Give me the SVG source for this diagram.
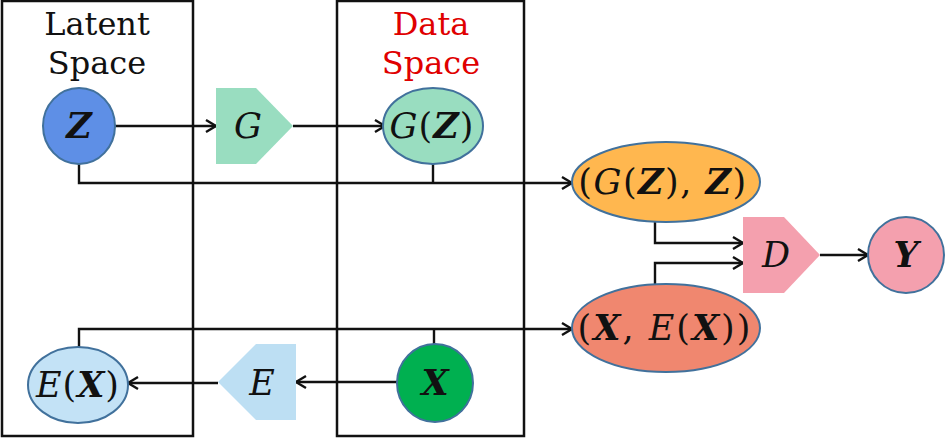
<svg xmlns="http://www.w3.org/2000/svg" width="945" height="438" viewBox="0 0 945 438">
<defs>
<style>
.box{fill:none;stroke:#111;stroke-width:2.5}
.node{stroke:#41719C;stroke-width:2}
.shape{stroke:none}
.title{font-family:"DejaVu Serif",serif;font-size:32px;text-anchor:middle}
.m{font-family:"DejaVu Serif",serif;font-size:35px;text-anchor:middle;fill:#111}
.i{font-style:italic}
.b{font-style:italic;font-weight:bold}
.conn{fill:none;stroke:#111;stroke-width:2.4}
</style>
<marker id="arr" markerUnits="userSpaceOnUse" markerWidth="14" markerHeight="16" refX="11" refY="7" orient="auto" viewBox="0 0 14 14">
<path d="M1,1 L11,7 L1,13" fill="none" stroke="#111" stroke-width="2.4"/>
</marker>
</defs>
<rect width="945" height="438" fill="#fff"/>

<g id="latent-space">
<rect class="box" x="2" y="1" width="191" height="435"/>
<text class="title" x="97" y="35" fill="#111">Latent</text>
<text class="title" x="97" y="74" fill="#111">Space</text>
</g>
<g id="data-space">
<rect class="box" x="337" y="1" width="187" height="435"/>
<text class="title" x="431" y="35" fill="#E00000">Data</text>
<text class="title" x="431" y="74" fill="#E00000">Space</text>
</g>

<g id="connectors">
<path class="conn" d="M115,126 H216" marker-end="url(#arr)"/>
<path class="conn" d="M293,126 H385" marker-end="url(#arr)"/>
<path class="conn" d="M79,164 V183 H572" marker-end="url(#arr)"/>
<path class="conn" d="M433,164 V183"/>
<path class="conn" d="M655,222 V243 H743" marker-end="url(#arr)"/>
<path class="conn" d="M655,284 V263 H743" marker-end="url(#arr)"/>
<path class="conn" d="M820,255 H868" marker-end="url(#arr)"/>
<path class="conn" d="M79,347 V329 H572" marker-end="url(#arr)"/>
<path class="conn" d="M434,344 V329"/>
<path class="conn" d="M397,382 H296" marker-end="url(#arr)"/>
<path class="conn" d="M218,383 H128" marker-end="url(#arr)"/>
</g>

<g id="node-Z">
<ellipse class="node" cx="79" cy="126" rx="36" ry="38" fill="#5E8FE6"/>
<text class="m b" x="79" y="138">Z</text>
</g>
<g id="node-G">
<polygon class="shape" points="216,88 256,88 293,126 256,164 216,164" fill="#99DDC0"/>
<text class="m i" x="248" y="138">G</text>
</g>
<g id="node-GZ">
<ellipse class="node" cx="433" cy="126" rx="50" ry="38" fill="#99DDC0"/>
<text class="m" x="432" y="138" letter-spacing="1"><tspan class="i">G</tspan>(<tspan class="b">Z</tspan>)</text>
</g>
<g id="node-GZZ">
<ellipse class="node" cx="666" cy="182" rx="94" ry="40" fill="#FFB74F"/>
<text class="m" x="663" y="194" letter-spacing="1.5">(<tspan class="i">G</tspan>(<tspan class="b">Z</tspan>), <tspan class="b">Z</tspan>)</text>
</g>
<g id="node-D">
<polygon class="shape" points="743,217 784,217 820,255 784,293 743,293" fill="#F4A0AE"/>
<text class="m i" x="776" y="267">D</text>
</g>
<g id="node-Y">
<ellipse class="node" cx="906" cy="255" rx="38" ry="38" fill="#F4A0AE"/>
<text class="m b" x="906" y="267">Y</text>
</g>
<g id="node-XEX">
<ellipse class="node" cx="666" cy="328" rx="94" ry="44" fill="#F0876F"/>
<text class="m" x="665" y="340" letter-spacing="2">(<tspan class="b">X</tspan>, <tspan class="i">E</tspan>(<tspan class="b">X</tspan>))</text>
</g>
<g id="node-X">
<ellipse class="node" cx="435" cy="383" rx="38" ry="39" fill="#00B050"/>
<text class="m b" x="435" y="395">X</text>
</g>
<g id="node-E">
<polygon class="shape" points="296,344 256,344 218,382 256,420 296,420" fill="#BDDFF3"/>
<text class="m i" x="262" y="395">E</text>
</g>
<g id="node-EX">
<ellipse class="node" cx="78" cy="385" rx="50" ry="38" fill="#C3E2F6"/>
<text class="m" x="78" y="397" letter-spacing="1"><tspan class="i">E</tspan>(<tspan class="b">X</tspan>)</text>
</g>
</svg>
